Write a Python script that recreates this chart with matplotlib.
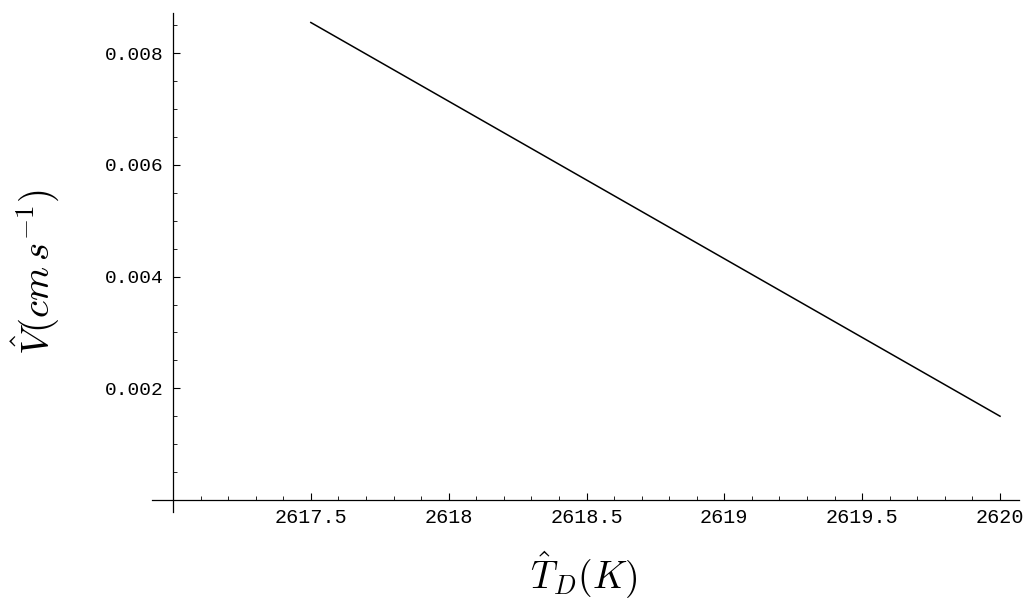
import numpy as np
import matplotlib
matplotlib.use('Agg')
import matplotlib.pyplot as plt
from matplotlib.ticker import MultipleLocator

plt.rcParams['mathtext.fontset'] = 'cm'

# data
T_hat = [2617.5, 2618.0, 2618.5, 2619.0, 2619.5, 2620.0]
V_hat = [0.00855, 0.00714, 0.00573, 0.00432, 0.00291, 0.00150]

x_ticks = [2617.5, 2618, 2618.5, 2619, 2619.5, 2620]
x_ticklabels = ['2617.5', '2618', '2618.5', '2619', '2619.5', '2620']
y_ticks = [0.002, 0.004, 0.006, 0.008]
y_ticklabels = ['0.002', '0.004', '0.006', '0.008']

fig = plt.figure(figsize=(10.28, 6.08), dpi=100)
ax = fig.add_axes([0.1479, 0.1579, 0.8434, 0.8207])

ax.plot(T_hat, V_hat, color='black', lw=1.1)

ax.set_xlim(2616.924, 2620.069)
ax.set_ylim(-0.000215, 0.00872)

# mathematica style axes crossing at (2617, 0)
ax.spines['top'].set_visible(False)
ax.spines['right'].set_visible(False)
ax.spines['left'].set_position(('data', 2617))
ax.spines['bottom'].set_position(('data', 0))
for s in ['left', 'bottom']:
    ax.spines[s].set_linewidth(0.9)

ax.set_xticks(x_ticks)
ax.set_xticklabels(x_ticklabels)
ax.set_yticks(y_ticks)
ax.set_yticklabels(y_ticklabels)
ax.xaxis.set_minor_locator(MultipleLocator(0.1))
ax.yaxis.set_minor_locator(MultipleLocator(0.0005))

ax.tick_params(which='major', direction='in', length=5, width=0.8)
ax.tick_params(which='minor', direction='in', length=3, width=0.6)
ax.tick_params(axis='x', which='major', pad=6)
ax.tick_params(axis='y', which='major', pad=7)
for lab in ax.get_xticklabels():
    lab.set_family('Liberation Mono')
    lab.set_fontsize(14.5)
for lab in ax.get_yticklabels():
    lab.set_family('Liberation Mono')
    lab.set_fontsize(14)

fig.text(0.568, 0.012, r'$\hat{T}_D(K)$', ha='center', va='bottom', fontsize=27)
fig.text(0.034, 0.553, r'$\hat{V}(cm\,s^{-1})$', ha='center', va='center',
         rotation=90, fontsize=28)

plt.savefig('out.png', dpi=100)
